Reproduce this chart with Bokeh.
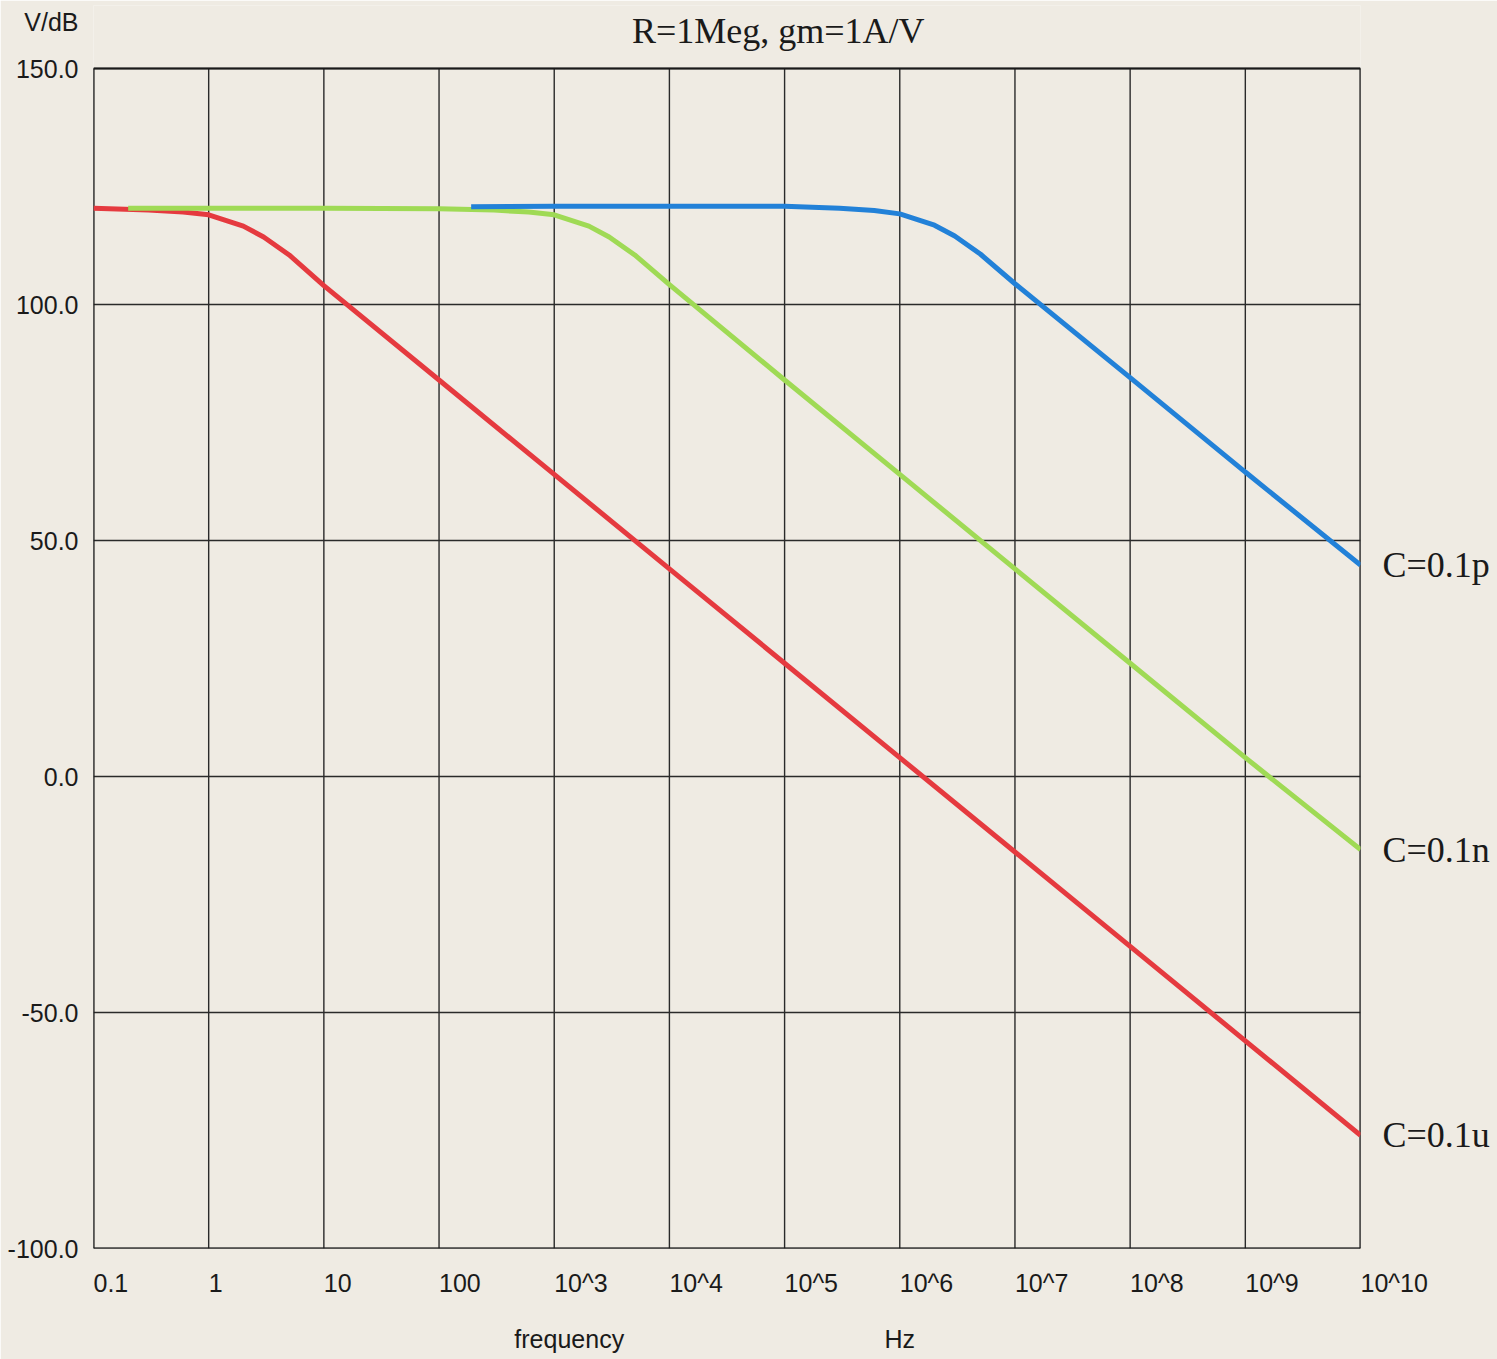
from bokeh.plotting import figure
from bokeh.models import (FixedTicker, CustomJSTickFormatter, Label, LinearAxis, LogAxis)
from bokeh.embed import file_html
from bokeh.resources import INLINE

# ---- data ----
x_ticks = [0.1, 1, 10, 100, 1e3, 1e4, 1e5, 1e6, 1e7, 1e8, 1e9, 1e10]
x_tick_labels = ["0.1", "1", "10", "100", "10^3", "10^4", "10^5", "10^6",
                 "10^7", "10^8", "10^9", "10^10"]
y_ticks = [-100, -50, 0, 50, 100, 150]

freq_u = [0.1, 0.3, 0.6, 1, 2, 3, 5, 10, 100, 1e3, 1e4, 1e5, 1e6, 1e7, 1e8, 1e9, 1e10]
gain_u = [120.4, 120.0, 119.6, 119.0, 116.6, 114.3, 110.5, 104.0, 84.0, 64.0, 44.0,
          24.0, 4.0, -16.0, -36.0, -56.0, -76.0]

freq_n = [0.2, 1, 10, 100, 300, 600, 1e3, 2e3, 3e3, 5e3, 1e4, 1e5, 1e6, 1e7, 1e8, 1e9, 1e10]
gain_n = [120.4, 120.4, 120.4, 120.3, 120.0, 119.6, 119.0, 116.6, 114.3, 110.5, 104.2,
          84.0, 64.0, 44.0, 24.0, 4.0, -15.5]

freq_p = [190, 1e3, 1e4, 1e5, 3e5, 6e5, 1e6, 2e6, 3e6, 5e6, 1e7, 1e8, 1e9, 1e10]
gain_p = [120.7, 120.8, 120.8, 120.8, 120.4, 119.9, 119.2, 116.8, 114.5, 110.7, 104.4,
          84.5, 64.5, 44.8]

series_names = ["C=0.1u", "C=0.1n", "C=0.1p"]
series_colors = ["#e53a3f", "#9fda55", "#2281d8"]

title_text = "R=1Meg, gm=1A/V"
y_caption = "V/dB"
x_captions = ["frequency", "Hz"]
x_caption_pos = [1.35e3, 1e6]

BG = "#efebe3"
INK = "#1a1a1a"
SANS = "Liberation Sans"
SERIF = "Liberation Serif"

# frame reaches up to the canvas top so the title can sit inside it
Y_TOP = 163.35
Y_CAPTION_AT = 159.75

p = figure(width=1497, height=1359, x_axis_type="log",
           x_range=(0.1, 1e10), y_range=(-100, Y_TOP),
           output_backend="svg", toolbar_location=None,
           min_border_left=93, min_border_right=137,
           min_border_top=5, min_border_bottom=111)
p.background_fill_color = BG
p.border_fill_color = BG
p.outline_line_color = None
p.xgrid.visible = False
p.ygrid.visible = False

# ---- grid / box drawn from the tick arrays ----
n = len(x_ticks)
p.segment(x0=x_ticks, y0=[y_ticks[0]] * n, x1=x_ticks, y1=[y_ticks[-1]] * n,
          line_color="#2a2a2a", line_width=1.4)
m = len(y_ticks)
p.segment(x0=[x_ticks[0]] * m, y0=y_ticks, x1=[x_ticks[-1]] * m, y1=y_ticks,
          line_color="#2a2a2a", line_width=1.4)
# slightly heavier outer frame
p.segment(x0=[x_ticks[0], x_ticks[-1], x_ticks[0], x_ticks[0]],
          y0=[y_ticks[0], y_ticks[0], y_ticks[0], y_ticks[-1]],
          x1=[x_ticks[0], x_ticks[-1], x_ticks[-1], x_ticks[-1]],
          y1=[y_ticks[-1], y_ticks[-1], y_ticks[0], y_ticks[-1]],
          line_color="#1a1a1a", line_width=2)


def style_axis(ax, size="25px", font=SANS):
    ax.axis_line_color = None
    ax.major_tick_line_color = None
    ax.minor_tick_line_color = None
    ax.major_tick_out = 0
    ax.major_tick_in = 0
    ax.major_label_text_font = font
    ax.major_label_text_font_size = size
    ax.major_label_text_color = INK


NEAREST_LOG = """
    let best = 0, bd = 1e9;
    for (let i = 0; i < tvals.length; i++) {
        const d = Math.abs(Math.log10(tvals[i]) - Math.log10(tick));
        if (d < bd) { bd = d; best = i; }
    }
    return tlabels[best];
"""

# bottom axis (labels start at their grid line, as in the reference)
p.xaxis.ticker = FixedTicker(ticks=x_ticks)
p.xaxis.formatter = CustomJSTickFormatter(args=dict(tvals=x_ticks, tlabels=x_tick_labels),
                                          code=NEAREST_LOG)
style_axis(p.xaxis[0])
p.xaxis.major_label_orientation = -1e-6
p.xaxis.major_label_standoff = 34

# left axis (with the unit caption on top)
p.yaxis.ticker = FixedTicker(ticks=y_ticks + [Y_CAPTION_AT])
p.yaxis.formatter = CustomJSTickFormatter(args=dict(cap=Y_CAPTION_AT, ctext=y_caption), code="""
    if (Math.abs(tick - cap) < 0.01) return ctext;
    return tick.toFixed(1);
""")
style_axis(p.yaxis[0])
p.yaxis.major_label_standoff = 15

# second bottom axis for the captions
cap_axis = LogAxis(ticker=FixedTicker(ticks=x_caption_pos),
                   formatter=CustomJSTickFormatter(args=dict(tvals=x_caption_pos, tlabels=x_captions),
                                                   code=NEAREST_LOG))
style_axis(cap_axis)
cap_axis.major_label_standoff = 11
p.add_layout(cap_axis, "below")

# right axis carrying the curve names at each curve's end value
ends = [gain_u[-1], gain_n[-1], gain_p[-1]]
name_axis = LinearAxis(ticker=FixedTicker(ticks=ends),
                       formatter=CustomJSTickFormatter(args=dict(tvals=ends, tlabels=series_names), code="""
    let best = 0, bd = 1e9;
    for (let i = 0; i < tvals.length; i++) {
        const d = Math.abs(tvals[i] - tick);
        if (d < bd) { bd = d; best = i; }
    }
    return tlabels[best];
"""))
style_axis(name_axis, size="36px", font=SERIF)
name_axis.major_label_standoff = 22
p.add_layout(name_axis, "right")

# curves
for f, gdb, c in zip([freq_u, freq_n, freq_p], [gain_u, gain_n, gain_p], series_colors):
    p.line(f, gdb, line_color=c, line_width=5)

# title (inside the extended frame, above the data box)
p.add_layout(Label(x=8.8e4, y=y_ticks[-1], text=title_text, y_offset=38,
                   text_font=SERIF, text_font_size="36px", text_color=INK,
                   text_align="center", text_baseline="middle"))

open("out.html", "w").write(file_html(p, INLINE))
